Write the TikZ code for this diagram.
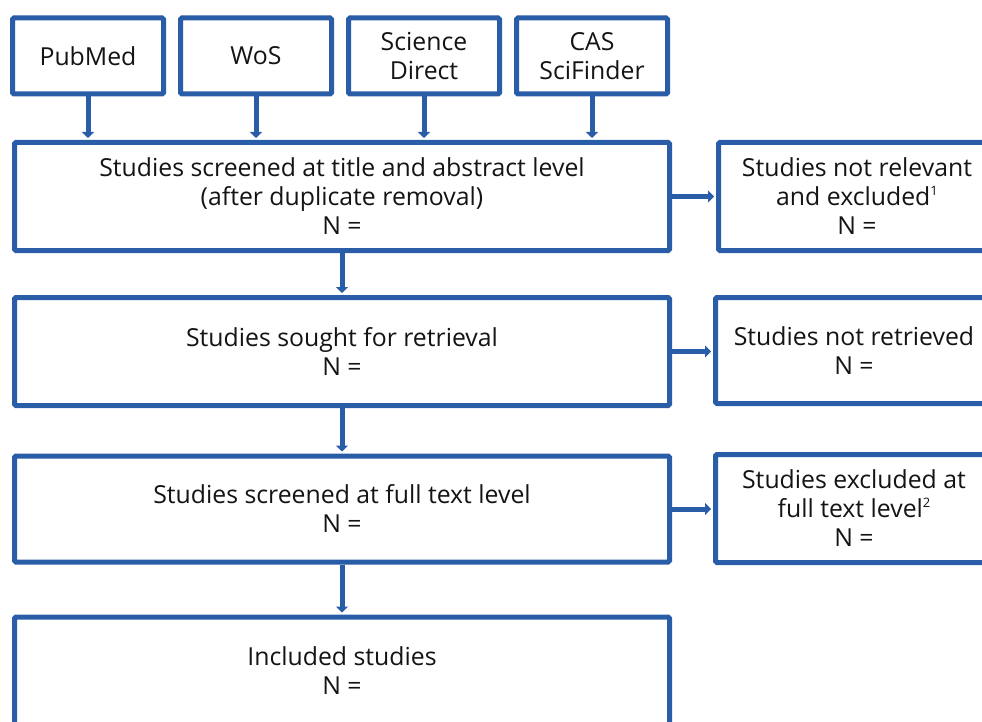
\documentclass[tikz,border=0pt]{standalone}
\usepackage{fontspec}
\setmainfont{Open Sans}
\usetikzlibrary{arrows.meta}
\definecolor{boxblue}{RGB}{42,93,167}
\definecolor{txt}{RGB}{20,20,20}
\newcommand{\supnum}[1]{\raisebox{0.75ex}{\fontsize{13}{13}\selectfont #1}}
\begin{document}
\begin{tikzpicture}[x=1pt,y=-1pt,
  box/.style={draw=boxblue,line width=5pt,rounded corners=1.5pt,fill=white,
    text=txt,align=center,inner sep=0pt,
    font=\fontsize{24.8}{29}\selectfont},
  conn/.style={draw=boxblue,line width=5pt,
    -{Triangle[width=12pt,length=6pt]},shorten >=2pt}]
\useasboundingbox (0,0) rectangle (982,722);
\clip (0,0) rectangle (982,722);
% source boxes
\node[box,minimum width=151pt,minimum height=76pt] (pm) at (88,56) {PubMed};
\node[box,minimum width=151pt,minimum height=76pt] (wos) at (256,56) {WoS};
\node[box,minimum width=151pt,minimum height=76pt] (sd) at (424,56) {Science\\Direct};
\node[box,minimum width=151pt,minimum height=76pt] (cas) at (592,56) {CAS\\SciFinder};
% main column
\node[box,minimum width=655pt,minimum height=108pt] (s1) at (342,196.5)
  {Studies screened at title and abstract level\\(after duplicate removal)\\N =};
\node[box,minimum width=655pt,minimum height=108pt] (s2) at (342,351.5)
  {Studies sought for retrieval\\N =};
\node[box,minimum width=655pt,minimum height=106pt] (s3) at (342,509)
  {Studies screened at full text level\\N =};
\node[box,minimum width=655pt,minimum height=108pt] (s4) at (342,671)
  {Included studies\\N =};
% side boxes
\node[box,minimum width=277pt,minimum height=108pt] (r1) at (857,196.5)
  {Studies not relevant\\and excluded\supnum{1}\\N =};
\node[box,minimum width=277pt,minimum height=106pt] (r2) at (854,350.5)
  {Studies not retrieved\\N =};
\node[box,minimum width=277pt,minimum height=108pt] (r3) at (854,508.5)
  {Studies excluded at\\full text level\supnum{2}\\N =};
% connectors
\draw[conn] (pm.south) -- (pm.south |- s1.north);
\draw[conn] (wos.south) -- (wos.south |- s1.north);
\draw[conn] (sd.south) -- (sd.south |- s1.north);
\draw[conn] (cas.south) -- (cas.south |- s1.north);
\draw[conn] (s1.south) -- (s2.north);
\draw[conn] (s2.south) -- (s3.north);
\draw[conn] (s3.south) -- (s4.north);
\draw[conn] (s1.east) -- (s1.east -| r1.west);
\draw[conn] (s2.east) -- (s2.east -| r2.west);
\draw[conn] (s3.east) -- (s3.east -| r3.west);
\end{tikzpicture}
\end{document}
